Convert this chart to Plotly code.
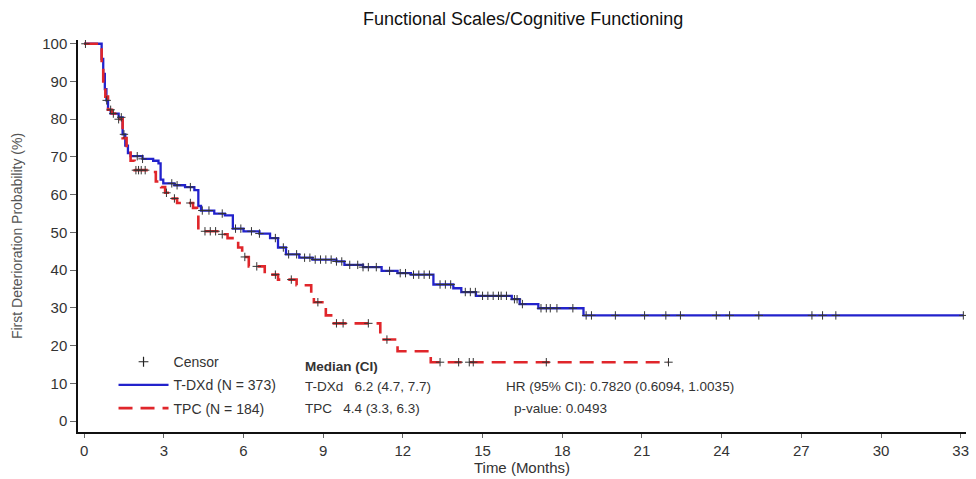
import numpy as np
import plotly.graph_objects as go

# ---------------- data ----------------
tdxd_time = [0, 0.66, 0.72, 0.78, 0.84, 0.9, 1.0, 1.3, 1.45, 1.55, 1.65, 1.75, 2.2, 2.6, 2.8,
             2.88, 2.98, 3.4, 3.8, 4.15, 4.3, 4.4, 4.9, 5.3, 5.6, 6.0, 6.6, 7.0, 7.3, 7.6,
             8.1, 8.6, 9.5, 9.8, 10.5, 11.2, 11.8, 12.3, 13.15, 13.9, 14.2, 14.75, 16.1,
             16.4, 17.1, 18.8]
tdxd_surv = [100, 96, 92, 88, 85, 82.5, 81.5, 80.5, 76, 73, 71, 70.2, 69.5, 69, 68.3,
             64, 63, 62.5, 62, 61.2, 57, 55.8, 55, 54.5, 51, 50.3, 49.7, 48.5, 46, 44.2,
             43.3, 42.8, 42.3, 41.4, 40.8, 39.8, 39.2, 38.8, 36.2, 35.2, 34.2, 33.2, 32.3,
             31.0, 29.9, 28.0]
tdxd_end = 33.1
tdxd_censor = [0.05, 0.85, 1.1, 1.4, 1.5, 2.0, 2.2, 3.3, 3.5, 4.0, 4.45, 4.7, 5.2, 5.7, 5.9,
               6.3, 6.6, 7.2, 7.5, 7.7, 8.0, 8.3, 8.5, 8.7, 8.9, 9.1, 9.3, 9.5, 9.7, 10.0,
               10.3, 10.5, 10.7, 11.0, 11.5, 11.9, 12.1, 12.4, 12.6, 12.8, 13.0, 13.4, 13.6,
               13.8, 14.35, 14.54, 14.73, 15.0, 15.2, 15.4, 15.6, 15.7, 15.9, 16.2, 16.3,
               16.5, 17.2, 17.4, 17.55, 17.8, 18.4, 18.9, 19.1, 20.0, 21.1, 21.9, 22.45,
               23.8, 24.3, 25.4, 27.4, 27.8, 28.3, 33.1]

tpc_time = [0, 0.66, 0.72, 0.8, 0.9, 1.05, 1.3, 1.45, 1.6, 1.75, 1.9, 2.55, 2.7, 2.9, 3.05,
            3.25, 3.5, 4.1, 4.25, 4.3, 5.1, 5.4, 5.8, 5.95, 6.2, 6.8, 7.3, 8.0, 8.55, 8.65,
            9.1, 9.3, 11.15, 11.8, 13.05]
tpc_surv = [100, 95, 90, 86, 82.5, 81.5, 80, 75, 72, 69, 66.5, 66, 63.5, 62, 60.5,
            59, 57.8, 56.5, 54.5, 50.3, 49.5, 48.5, 46, 43.5, 41, 38.8, 37.5, 36, 33.3, 31.5,
            28, 25.9, 21.6, 18.5, 15.6]
tpc_end = 22.0
tpc_censor = [1.0, 1.3, 1.95, 2.05, 2.15, 2.3, 3.1, 3.4, 4.0, 4.55, 4.75, 4.95, 5.2, 6.05,
              6.5, 7.2, 7.8, 8.8, 9.5, 9.75, 10.7, 11.4, 13.4, 14.1, 14.5, 14.65, 17.4, 22.0]

x_ticks = [0, 3, 6, 9, 12, 15, 18, 21, 24, 27, 30, 33]
y_ticks = [0, 10, 20, 30, 40, 50, 60, 70, 80, 90, 100]

title_text = "Functional Scales/Cognitive Functioning"
x_title = "Time (Months)"
y_title = "First Deterioration Probability (%)"
arm_labels = ["T-DXd (N = 373)", "TPC (N = 184)"]
median_rows = ["T-DXd   6.2 (4.7, 7.7)", "TPC   4.4 (3.3, 6.3)"]
hr_text = "HR (95% CI): 0.7820 (0.6094, 1.0035)"
p_text = "p-value: 0.0493"

BLUE = "#2222cc"
RED = "#e0262b"
FONT = "Liberation Sans, Arial, sans-serif"


def surv_at(times, survs, t):
    idx = np.searchsorted(np.asarray(times), t, side="right") - 1
    return np.asarray(survs)[idx]


fig = go.Figure()

# legend-only entry for censor marks
fig.add_trace(go.Scatter(x=[None], y=[None], mode="markers", name="Censor", legendgroup="c",
                         marker=dict(symbol="cross-thin", size=7,
                                     line=dict(width=1.2, color="#222"))))

# KM curves
fig.add_trace(go.Scatter(x=tdxd_time + [tdxd_end], y=tdxd_surv + [tdxd_surv[-1]],
                         mode="lines", line=dict(shape="hv", color=BLUE, width=2.3),
                         name=arm_labels[0], legendgroup="a"))
fig.add_trace(go.Scatter(x=tpc_time + [tpc_end], y=tpc_surv + [tpc_surv[-1]],
                         mode="lines", line=dict(shape="hv", color=RED, width=2.6, dash="14px,8px"),
                         name=arm_labels[1], legendgroup="b"))

# censor marks
for times, survs, cens in [(tdxd_time, tdxd_surv, tdxd_censor), (tpc_time, tpc_surv, tpc_censor)]:
    fig.add_trace(go.Scatter(x=cens, y=[surv_at(times, survs, c) for c in cens],
                             mode="markers", showlegend=False, hoverinfo="skip",
                             marker=dict(symbol="cross-thin", size=6,
                                         line=dict(width=1, color="#333"))))

txt = dict(family=FONT, size=13.5, color="#333")
annots = [
    dict(x=8.25, y=14.5, text="<b>Median (CI)</b>", xanchor="left", yanchor="middle",
         showarrow=False, font=txt),
    dict(x=8.25, y=9.2, text=median_rows[0], xanchor="left", yanchor="middle",
         showarrow=False, font=txt),
    dict(x=8.25, y=3.4, text=median_rows[1], xanchor="left", yanchor="middle",
         showarrow=False, font=txt),
    dict(x=15.8, y=9.2, text=hr_text, xanchor="left", yanchor="middle",
         showarrow=False, font=txt),
    dict(x=16.1, y=3.4, text=p_text, xanchor="left", yanchor="middle",
         showarrow=False, font=txt),
]

fig.update_layout(
    width=976, height=479,
    margin=dict(l=78, r=10, t=40, b=47, autoexpand=False),
    paper_bgcolor="white", plot_bgcolor="white",
    font=dict(family=FONT, size=14, color="#333"),
    title=dict(text=title_text, x=0.536, xanchor="center", y=0.962, yanchor="middle",
               font=dict(family=FONT, size=18, color="#111")),
    showlegend=True,
    legend=dict(x=0.04, y=0.219, xanchor="left", yanchor="top", bgcolor="rgba(0,0,0,0)",
                font=dict(family=FONT, size=14, color="#333"), tracegroupgap=2,
                itemwidth=50),
    annotations=annots,
    xaxis=dict(range=[-0.23, 33.2], tickvals=x_ticks, ticks="outside", ticklen=4,
               tickcolor="#666", showgrid=False, zeroline=False, showline=True,
               linecolor="#111", linewidth=2, automargin=False,
               title=dict(text=x_title, standoff=1, font=dict(family=FONT, size=15, color="#333")),
               tickfont=dict(family=FONT, size=15, color="#333")),
    yaxis=dict(range=[-2.9, 101], tickvals=y_ticks, ticks="outside", ticklen=6,
               tickcolor="#666", showgrid=False, zeroline=False, showline=True,
               linecolor="#111", linewidth=1.5, automargin=False,
               title=dict(text=y_title, standoff=16, font=dict(family=FONT, size=14, color="#555")),
               tickfont=dict(family=FONT, size=15, color="#333")),
)

fig.write_html("out.html")
